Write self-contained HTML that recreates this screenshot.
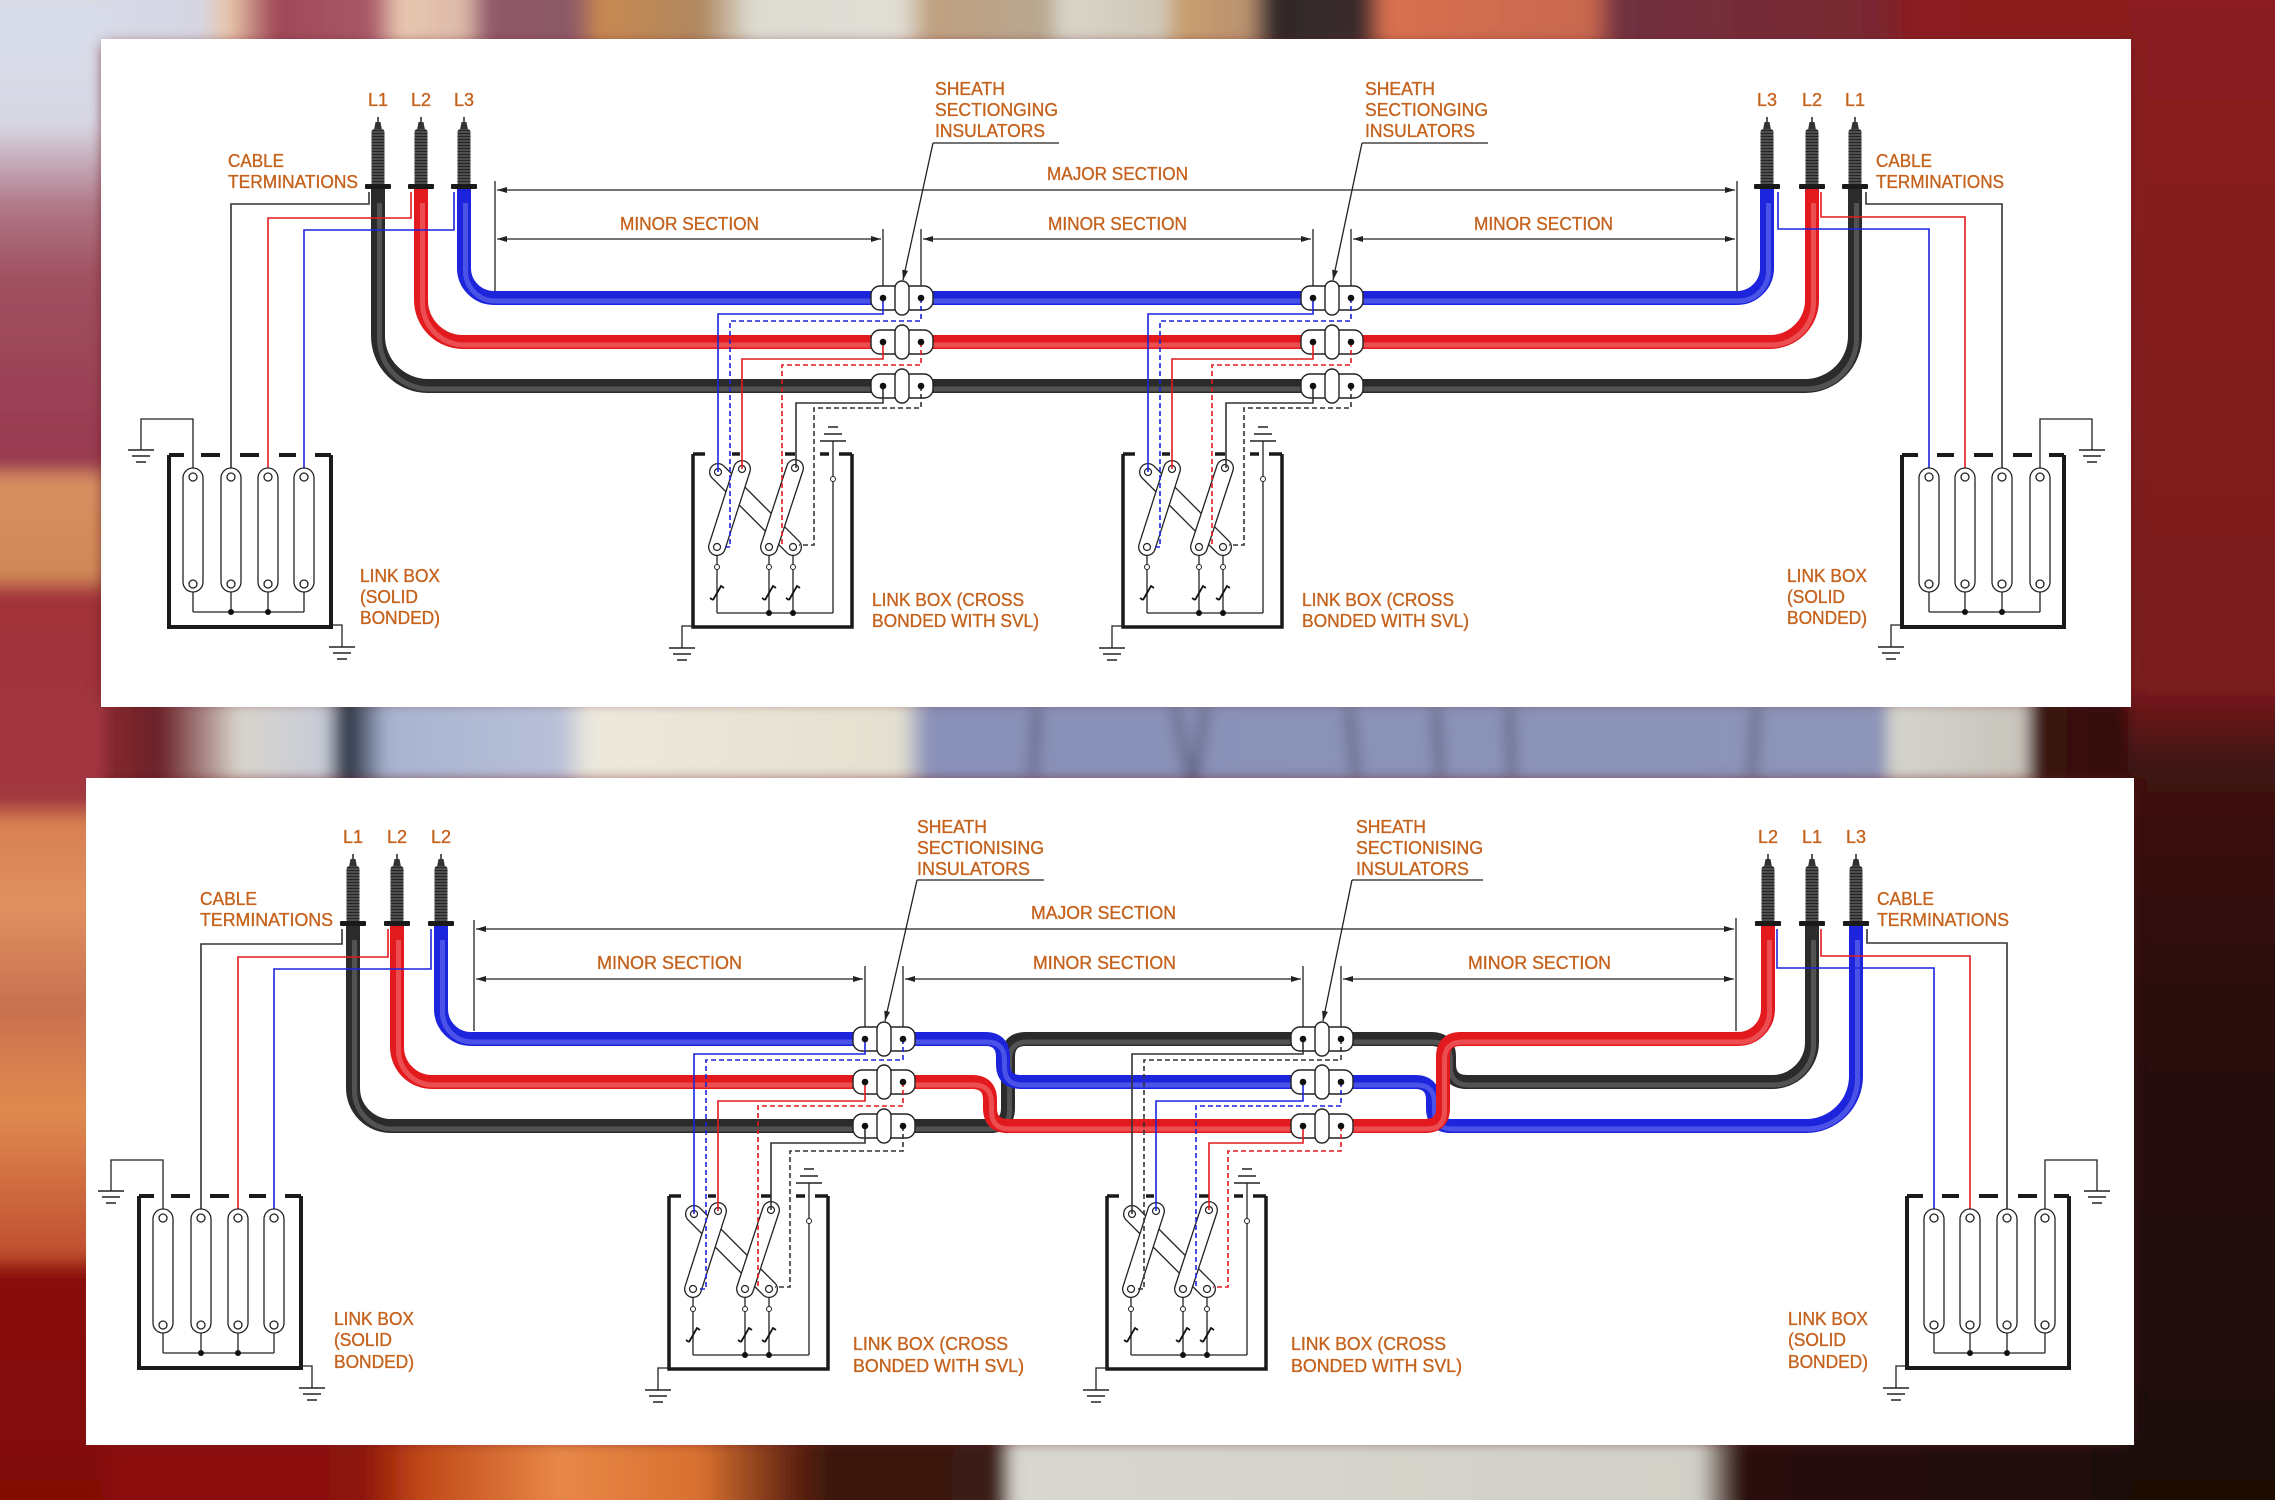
<!DOCTYPE html>
<html><head><meta charset="utf-8"><style>
html,body{margin:0;padding:0;background:#6a1a20;overflow:hidden}
svg{display:block}
.t{font-family:"Liberation Sans",Arial,sans-serif;font-size:18px;fill:#c5621d;stroke:#c5621d;stroke-width:0.35}
.w{fill:none;stroke-width:1.6}
.d{stroke-dasharray:5 3}
.k{fill:none;stroke:#222;stroke-width:1.3}
.c{fill:none;stroke-width:14;stroke-linejoin:round}
.h{fill:none;stroke-width:5;stroke-linejoin:round;opacity:.35}
</style></head><body>
<svg width="2275" height="1500" viewBox="0 0 2275 1500" xmlns="http://www.w3.org/2000/svg">
<defs>
<filter id="bl" x="-2%" y="-2%" width="104%" height="104%"><feGaussianBlur stdDeviation="7"/></filter>
<linearGradient id="gTop" gradientUnits="userSpaceOnUse" x1="0" y1="0" x2="2275" y2="0">
<stop offset="0" stop-color="#efc9aa"/><stop offset=".019" stop-color="#d8dcea"/><stop offset=".088" stop-color="#d6d6e2"/><stop offset=".101" stop-color="#e8c4a8"/><stop offset=".121" stop-color="#a04858"/><stop offset=".163" stop-color="#a85868"/><stop offset=".176" stop-color="#e8c8b0"/><stop offset=".204" stop-color="#dcb8a8"/><stop offset=".215" stop-color="#905868"/><stop offset=".251" stop-color="#8a5868"/><stop offset=".264" stop-color="#c88850"/><stop offset=".308" stop-color="#b08860"/><stop offset=".331" stop-color="#dcdcd2"/><stop offset=".396" stop-color="#e0ddd4"/><stop offset=".409" stop-color="#c0a080"/><stop offset=".459" stop-color="#b8a890"/><stop offset=".468" stop-color="#d8d4c8"/><stop offset=".51" stop-color="#d0c8b8"/><stop offset=".519" stop-color="#c8a070"/><stop offset=".549" stop-color="#b89070"/><stop offset=".56" stop-color="#302828"/><stop offset=".598" stop-color="#3a2a2a"/><stop offset=".609" stop-color="#d87050"/><stop offset=".699" stop-color="#c86850"/><stop offset=".712" stop-color="#703040"/><stop offset=".826" stop-color="#7a2830"/><stop offset=".84" stop-color="#8a1c20"/><stop offset="1" stop-color="#8a1a1c"/>
</linearGradient>
<linearGradient id="gMid" gradientUnits="userSpaceOnUse" x1="0" y1="0" x2="2275" y2="0">
<stop offset="0" stop-color="#a83840"/><stop offset=".044" stop-color="#8a2a30"/><stop offset=".07" stop-color="#6a2028"/><stop offset=".105" stop-color="#d8d4cc"/><stop offset=".143" stop-color="#c8ccd8"/><stop offset=".152" stop-color="#202838"/><stop offset=".17" stop-color="#a8b4d0"/><stop offset=".246" stop-color="#b8c0d8"/><stop offset=".259" stop-color="#ece8dc"/><stop offset=".396" stop-color="#e4e0d0"/><stop offset=".408" stop-color="#8890b8"/><stop offset=".828" stop-color="#8c94b8"/><stop offset=".831" stop-color="#d4d4cc"/><stop offset=".89" stop-color="#c8c4bc"/><stop offset=".895" stop-color="#3a1210"/><stop offset="1" stop-color="#2a0e0c"/>
</linearGradient>
<linearGradient id="gBot" gradientUnits="userSpaceOnUse" x1="0" y1="0" x2="2275" y2="0">
<stop offset="0" stop-color="#8a0c08"/><stop offset=".158" stop-color="#8c1208"/><stop offset=".185" stop-color="#c04818"/><stop offset=".246" stop-color="#e88848"/><stop offset=".308" stop-color="#d87030"/><stop offset=".352" stop-color="#5a2010"/><stop offset=".365" stop-color="#3a1810"/><stop offset=".438" stop-color="#3a1a12"/><stop offset=".446" stop-color="#d8d8d0"/><stop offset=".747" stop-color="#d0d0c8"/><stop offset=".765" stop-color="#2a1008"/><stop offset="1" stop-color="#1a0a08"/>
</linearGradient>
<linearGradient id="gLeft" x1="0" y1="0" x2="0" y2="1">
<stop offset="0" stop-color="#e8c8b0"/><stop offset=".015" stop-color="#d8dcea"/><stop offset=".093" stop-color="#d8d8e4"/><stop offset=".147" stop-color="#b07888"/><stop offset=".193" stop-color="#a05060"/><stop offset=".313" stop-color="#983850"/><stop offset=".325" stop-color="#d89060"/><stop offset=".387" stop-color="#d08858"/><stop offset=".4" stop-color="#a03038"/><stop offset=".533" stop-color="#a03840"/><stop offset=".547" stop-color="#d88050"/><stop offset=".6" stop-color="#e09060"/><stop offset=".667" stop-color="#c87050"/><stop offset=".733" stop-color="#e08a50"/><stop offset=".827" stop-color="#c05030"/><stop offset=".84" stop-color="#8a0c08"/><stop offset="1" stop-color="#800a06"/>
</linearGradient>
<linearGradient id="gRight" x1="0" y1="0" x2="0" y2="1">
<stop offset="0" stop-color="#8a1c20"/><stop offset=".46" stop-color="#7a1a1c"/><stop offset=".51" stop-color="#3e1212"/><stop offset=".67" stop-color="#2a0c0a"/><stop offset="1" stop-color="#1c0806"/>
</linearGradient>
<pattern id="rib" patternUnits="userSpaceOnUse" width="4" height="3"><rect width="4" height="3" fill="#262626"/><rect y="1.6" width="4" height="0.8" fill="#8a8a8a"/></pattern>
<marker id="a" viewBox="0 0 10 6" refX="10" refY="3" markerWidth="10" markerHeight="6" markerUnits="userSpaceOnUse" orient="auto-start-reverse"><path d="M0 0L10 3L0 6z" fill="#222"/></marker>
<g id="term">
<path d="M0 -73V-67" stroke="#222" stroke-width="1.5"/>
<path d="M-2.5 -68L2.5 -68L4 -60L-4 -60Z" fill="#333"/>
<rect x="-6.5" y="-61" width="13" height="57" rx="3" fill="url(#rib)"/>
<rect x="-13" y="-6" width="26" height="5" rx="1" fill="#1a1a1a"/>
</g>
<g id="ins">
<rect x="-31" y="-12" width="62" height="24" rx="9" fill="#fff" stroke="#222" stroke-width="1.4"/>
<rect x="-7" y="-17" width="14" height="34" rx="7" fill="#fff" stroke="#222" stroke-width="1.4"/>
</g>
<g id="xbox">
<path d="M0 0V173H159V0" fill="none" stroke="#1a1a1a" stroke-width="3.5"/>
<path d="M0 0H12M39 0H47M92 0H102M127 0H136M146 0H159" stroke="#1a1a1a" stroke-width="3.5"/>
<path d="M140 -13V159M24 159H140M24 99V159M76 99V159M100 99V159" class="k"/>
<path d="M127 -13H153M131 -20H149M135 -27H145" stroke="#222" stroke-width="1.6"/>
<circle cx="140" cy="25" r="2.5" fill="#fff" stroke="#222"/>
<circle cx="24" cy="113" r="2.5" fill="#fff" stroke="#222"/>
<circle cx="76" cy="113" r="2.5" fill="#fff" stroke="#222"/>
<circle cx="100" cy="113" r="2.5" fill="#fff" stroke="#222"/>
<path d="M20 146L28 132l3 2M20 146l-3 -2M72 146L80 132l3 2M72 146l-3 -2M96 146L104 132l3 2M96 146l-3 -2" fill="none" stroke="#111" stroke-width="1.8"/>
<circle cx="76" cy="159" r="3" fill="#111"/><circle cx="100" cy="159" r="3" fill="#111"/>
<path d="M0 172H-11V194" class="k"/>
<path d="M-24 194H2M-20 200H-2M-16 206H-6" stroke="#222" stroke-width="1.6"/>
<g stroke-linecap="round" fill="none">
<path d="M25 18L100 93" stroke="#222" stroke-width="18"/><path d="M25 18L100 93" stroke="#fff" stroke-width="15.4"/>
<path d="M49 15L24 93" stroke="#222" stroke-width="18"/><path d="M49 15L24 93" stroke="#fff" stroke-width="15.4"/>
<path d="M102 14L76 93" stroke="#222" stroke-width="18"/><path d="M102 14L76 93" stroke="#fff" stroke-width="15.4"/>
</g>
<g fill="#fff" stroke="#222" stroke-width="1.2">
<circle cx="25" cy="18" r="3.5"/><circle cx="49" cy="15" r="3.5"/><circle cx="102" cy="14" r="3.5"/>
<circle cx="24" cy="93" r="3.5"/><circle cx="76" cy="93" r="3.5"/><circle cx="100" cy="93" r="3.5"/>
</g>
</g>
<g id="sbox">
<path d="M0 0V172H162V0" fill="none" stroke="#1a1a1a" stroke-width="4"/>
<path d="M0 0H15M32 0H51M71 0H90M110 0H127M146 0H162" stroke="#1a1a1a" stroke-width="4"/>
<path d="M24 13V-36H-28V-5M24 137V157M62 137V157M99 137V157M135 137V157M24 157H135M162 170H173V192" class="k"/>
<path d="M-41 -5H-15M-37 1H-19M-33 7H-23M160 192H186M164 198H182M168 204H178" stroke="#222" stroke-width="1.6"/>
<g fill="#fff" stroke="#222" stroke-width="1.3">
<rect x="14" y="13" width="20" height="124" rx="10"/><rect x="52" y="13" width="20" height="124" rx="10"/><rect x="89" y="13" width="20" height="124" rx="10"/><rect x="125" y="13" width="20" height="124" rx="10"/>
<circle cx="24" cy="22" r="4"/><circle cx="62" cy="22" r="4"/><circle cx="99" cy="22" r="4"/><circle cx="135" cy="22" r="4"/>
<circle cx="24" cy="129" r="4"/><circle cx="62" cy="129" r="4"/><circle cx="99" cy="129" r="4"/><circle cx="135" cy="129" r="4"/>
</g>
<circle cx="62" cy="157" r="3" fill="#111"/><circle cx="99" cy="157" r="3" fill="#111"/>
</g>
</defs>

<!-- background -->
<rect width="2275" height="1500" fill="#6a1a20"/>
<g filter="url(#bl)">
<rect x="-20" y="-20" width="2315" height="65" fill="url(#gTop)"/>
<rect x="-20" y="700" width="2315" height="82" fill="url(#gMid)"/>
<rect x="-20" y="1440" width="2315" height="80" fill="url(#gBot)"/>
<rect x="-20" y="-20" width="124" height="1540" fill="url(#gLeft)"/>
<rect x="2128" y="-20" width="167" height="1540" fill="url(#gRight)"/>
<rect x="-20" y="700" width="124" height="82" fill="#a23640"/>
<g stroke="#141828" stroke-width="5" opacity=".8">
<path d="M1037 707L1033 778M1175 707L1190 778M1205 707L1195 778M1349 707L1356 778M1436 707L1440 778M1509 707L1512 778M1756 707L1752 778"/>
</g>
</g>

<!-- panels -->
<rect x="101" y="39" width="2030" height="668" fill="#fff"/>
<rect x="86" y="778" width="2048" height="667" fill="#fff"/>

<!-- ================= TOP PANEL ================= -->
<g class="k" stroke="#222" stroke-width="1.3">
<path d="M495 181V291M1737 181V291"/>
<path d="M497 190H1735" marker-start="url(#a)" marker-end="url(#a)"/>
<path d="M497 239H881" marker-start="url(#a)" marker-end="url(#a)"/>
<path d="M923 239H1311" marker-start="url(#a)" marker-end="url(#a)"/>
<path d="M1353 239H1735" marker-start="url(#a)" marker-end="url(#a)"/>
<path d="M933 143H1059M1362 143H1488"/>
<path d="M933 143L903 280" marker-end="url(#a)"/>
<path d="M1362 143L1333 280" marker-end="url(#a)"/>
</g>
<path class="c" stroke="#2b2b2b" d="M378 190V336A50 50 0 0 0 428 386H1805A50 50 0 0 0 1855 336V190"/>
<path class="c" stroke="#e21a1e" d="M421 190V300A42 42 0 0 0 463 342H1770A42 42 0 0 0 1812 300V190"/>
<path class="c" stroke="#1c24dc" d="M464 190V268A30 30 0 0 0 494 298H1737A30 30 0 0 0 1767 268V190"/>
<g transform="translate(1.5,3)">
<path class="h" stroke="#9a9a9a" d="M378 200V336A50 50 0 0 0 428 386H1805A50 50 0 0 0 1855 336V200"/>
<path class="h" stroke="#ffb0b0" d="M421 200V300A42 42 0 0 0 463 342H1770A42 42 0 0 0 1812 300V200"/>
<path class="h" stroke="#a0a8ff" d="M464 200V268A30 30 0 0 0 494 298H1737A30 30 0 0 0 1767 268V200"/>
</g>
<use href="#term" x="378" y="190"/><rect x="371" y="189" width="14" height="5" fill="#2b2b2b"/>
<use href="#term" x="421" y="190"/><rect x="414" y="189" width="14" height="5" fill="#e21a1e"/>
<use href="#term" x="464" y="190"/><rect x="457" y="189" width="14" height="5" fill="#1c24dc"/>
<use href="#term" x="1767" y="190"/><rect x="1760" y="189" width="14" height="5" fill="#1c24dc"/>
<use href="#term" x="1812" y="190"/><rect x="1805" y="189" width="14" height="5" fill="#e21a1e"/>
<use href="#term" x="1855" y="190"/><rect x="1848" y="189" width="14" height="5" fill="#2b2b2b"/>
<path class="w" stroke="#333" d="M369 192V204H231V469"/>
<path class="w" stroke="#e21a1e" d="M411 192V218H268V469"/>
<path class="w" stroke="#1c24dc" d="M454 192V230H304V469"/>
<path class="w" stroke="#333" d="M1866 192V204H2002V469"/>
<path class="w" stroke="#e21a1e" d="M1821 192V217H1965V469"/>
<path class="w" stroke="#1c24dc" d="M1778 192V229H1929V469"/>
<use href="#sbox" transform="translate(169,455)"/>
<use href="#sbox" transform="translate(2064,455) scale(-1,1)"/>
<g id="topsec">
<path d="M883 229V287M921 229V287" class="k"/>
<use href="#ins" x="902" y="298"/>
<use href="#ins" x="902" y="342"/>
<use href="#ins" x="902" y="386"/>
<use href="#xbox" transform="translate(693,454)"/>
<path class="w" stroke="#1c24dc" d="M883 298V314H718V472"/>
<path class="w d" stroke="#1c24dc" d="M921 298V321H730V547H722"/>
<path class="w" stroke="#e21a1e" d="M883 342V359H742V469"/>
<path class="w d" stroke="#e21a1e" d="M921 342V365H782V547"/>
<path class="w" stroke="#333" d="M883 386V403H796V468"/>
<path class="w d" stroke="#333" d="M921 386V408H814V545H799"/>
<g fill="#111"><circle cx="883" cy="298" r="3.3"/><circle cx="921" cy="298" r="3.3"/><circle cx="883" cy="342" r="3.3"/><circle cx="921" cy="342" r="3.3"/><circle cx="883" cy="386" r="3.3"/><circle cx="921" cy="386" r="3.3"/></g>
</g>
<use href="#topsec" x="430" y="0"/>
<g class="t">
<text x="378" y="106" text-anchor="middle">L1</text>
<text x="421" y="106" text-anchor="middle">L2</text>
<text x="464" y="106" text-anchor="middle">L3</text>
<text x="1767" y="106" text-anchor="middle">L3</text>
<text x="1812" y="106" text-anchor="middle">L2</text>
<text x="1855" y="106" text-anchor="middle">L1</text>
<text x="228" y="167" textLength="56" lengthAdjust="spacingAndGlyphs">CABLE</text>
<text x="228" y="188" textLength="130" lengthAdjust="spacingAndGlyphs">TERMINATIONS</text>
<text x="1876" y="167" textLength="56" lengthAdjust="spacingAndGlyphs">CABLE</text>
<text x="1876" y="188" textLength="128" lengthAdjust="spacingAndGlyphs">TERMINATIONS</text>
<text x="935" y="95" textLength="70" lengthAdjust="spacingAndGlyphs">SHEATH</text>
<text x="935" y="116" textLength="123" lengthAdjust="spacingAndGlyphs">SECTIONGING</text>
<text x="935" y="137" textLength="110" lengthAdjust="spacingAndGlyphs">INSULATORS</text>
<text x="1365" y="95" textLength="70" lengthAdjust="spacingAndGlyphs">SHEATH</text>
<text x="1365" y="116" textLength="123" lengthAdjust="spacingAndGlyphs">SECTIONGING</text>
<text x="1365" y="137" textLength="110" lengthAdjust="spacingAndGlyphs">INSULATORS</text>
<text x="1047" y="180" textLength="141" lengthAdjust="spacingAndGlyphs">MAJOR SECTION</text>
<text x="620" y="230" textLength="139" lengthAdjust="spacingAndGlyphs">MINOR SECTION</text>
<text x="1048" y="230" textLength="139" lengthAdjust="spacingAndGlyphs">MINOR SECTION</text>
<text x="1474" y="230" textLength="139" lengthAdjust="spacingAndGlyphs">MINOR SECTION</text>
<text x="360" y="582" textLength="80" lengthAdjust="spacingAndGlyphs">LINK BOX</text>
<text x="360" y="603" textLength="58" lengthAdjust="spacingAndGlyphs">(SOLID</text>
<text x="360" y="624" textLength="80" lengthAdjust="spacingAndGlyphs">BONDED)</text>
<text x="1787" y="582" textLength="80" lengthAdjust="spacingAndGlyphs">LINK BOX</text>
<text x="1787" y="603" textLength="58" lengthAdjust="spacingAndGlyphs">(SOLID</text>
<text x="1787" y="624" textLength="80" lengthAdjust="spacingAndGlyphs">BONDED)</text>
<text x="872" y="606" textLength="152" lengthAdjust="spacingAndGlyphs">LINK BOX (CROSS</text>
<text x="872" y="627" textLength="167" lengthAdjust="spacingAndGlyphs">BONDED WITH SVL)</text>
<text x="1302" y="606" textLength="152" lengthAdjust="spacingAndGlyphs">LINK BOX (CROSS</text>
<text x="1302" y="627" textLength="167" lengthAdjust="spacingAndGlyphs">BONDED WITH SVL)</text>
</g>

<!-- ================= BOTTOM PANEL ================= -->
<g class="k" stroke="#222" stroke-width="1.3">
<path d="M474 920V1031M1736 918V1031"/>
<path d="M476 929H1734" marker-start="url(#a)" marker-end="url(#a)"/>
<path d="M476 979H863" marker-start="url(#a)" marker-end="url(#a)"/>
<path d="M905 979H1301" marker-start="url(#a)" marker-end="url(#a)"/>
<path d="M1343 979H1734" marker-start="url(#a)" marker-end="url(#a)"/>
<path d="M917 880H1044M1352 880H1483"/>
<path d="M917 880L885 1021" marker-end="url(#a)"/>
<path d="M1352 880L1323 1021" marker-end="url(#a)"/>
</g>
<path class="c" stroke="#2b2b2b" d="M353 927V1088A38 38 0 0 0 391 1126H990Q1008 1126 1008 1108V1057Q1008 1039 1026 1039H1431Q1449 1039 1449 1057V1064Q1449 1082 1467 1082H1772A40 40 0 0 0 1812 1042V927"/>
<path class="h" stroke="#9a9a9a" transform="translate(1.5,3)" d="M353 937V1088A38 38 0 0 0 391 1126H990Q1008 1126 1008 1108V1057Q1008 1039 1026 1039H1431Q1449 1039 1449 1057V1064Q1449 1082 1467 1082H1772A40 40 0 0 0 1812 1042V937"/>
<path class="c" stroke="#1c24dc" d="M441 927V1009A30 30 0 0 0 471 1039H985Q1003 1039 1003 1057V1064Q1003 1082 1021 1082H1415Q1433 1082 1433 1100V1108Q1433 1126 1451 1126H1806A50 50 0 0 0 1856 1076V927"/>
<path class="h" stroke="#a0a8ff" transform="translate(1.5,3)" d="M441 937V1009A30 30 0 0 0 471 1039H985Q1003 1039 1003 1057V1064Q1003 1082 1021 1082H1415Q1433 1082 1433 1100V1108Q1433 1126 1451 1126H1806A50 50 0 0 0 1856 1076V937"/>
<path class="c" stroke="#e21a1e" d="M397 927V1047A35 35 0 0 0 432 1082H972Q990 1082 990 1100V1108Q990 1126 1008 1126H1425Q1443 1126 1443 1108V1057Q1443 1039 1461 1039H1738A30 30 0 0 0 1768 1009V927"/>
<path class="h" stroke="#ffb0b0" transform="translate(1.5,3)" d="M397 937V1047A35 35 0 0 0 432 1082H972Q990 1082 990 1100V1108Q990 1126 1008 1126H1425Q1443 1126 1443 1108V1057Q1443 1039 1461 1039H1738A30 30 0 0 0 1768 1009V937"/>
<use href="#term" x="353" y="927"/><rect x="346" y="926" width="14" height="5" fill="#2b2b2b"/>
<use href="#term" x="397" y="927"/><rect x="390" y="926" width="14" height="5" fill="#e21a1e"/>
<use href="#term" x="441" y="927"/><rect x="434" y="926" width="14" height="5" fill="#1c24dc"/>
<use href="#term" x="1768" y="927"/><rect x="1761" y="926" width="14" height="5" fill="#e21a1e"/>
<use href="#term" x="1812" y="927"/><rect x="1805" y="926" width="14" height="5" fill="#2b2b2b"/>
<use href="#term" x="1856" y="927"/><rect x="1849" y="926" width="14" height="5" fill="#1c24dc"/>
<path class="w" stroke="#333" d="M342 929V944H201V1210"/>
<path class="w" stroke="#e21a1e" d="M388 929V957H238V1210"/>
<path class="w" stroke="#1c24dc" d="M431 929V969H274V1210"/>
<path class="w" stroke="#1c24dc" d="M1777 929V968H1934V1210"/>
<path class="w" stroke="#e21a1e" d="M1821 929V956H1970V1210"/>
<path class="w" stroke="#333" d="M1867 929V943H2007V1210"/>
<use href="#sbox" transform="translate(139,1196)"/>
<use href="#sbox" transform="translate(2069,1196) scale(-1,1)"/>
<path d="M865 966V1027M903 966V1027" class="k"/>
<use href="#ins" x="884" y="1039"/><use href="#ins" x="884" y="1082"/><use href="#ins" x="884" y="1126"/>
<use href="#xbox" transform="translate(669,1196)"/>
<path class="w" stroke="#1c24dc" d="M865 1039V1054H694V1214"/>
<path class="w d" stroke="#1c24dc" d="M903 1039V1060H706V1289H699"/>
<path class="w" stroke="#e21a1e" d="M865 1082V1101H718V1211"/>
<path class="w d" stroke="#e21a1e" d="M903 1082V1106H758V1289"/>
<path class="w" stroke="#333" d="M865 1126V1143H771V1210"/>
<path class="w d" stroke="#333" d="M903 1126V1151H790V1287H775"/>
<g fill="#111"><circle cx="865" cy="1039" r="3.3"/><circle cx="903" cy="1039" r="3.3"/><circle cx="865" cy="1082" r="3.3"/><circle cx="903" cy="1082" r="3.3"/><circle cx="865" cy="1126" r="3.3"/><circle cx="903" cy="1126" r="3.3"/></g>
<g transform="translate(438,0)">
<path d="M865 966V1027M903 966V1027" class="k"/>
<use href="#ins" x="884" y="1039"/><use href="#ins" x="884" y="1082"/><use href="#ins" x="884" y="1126"/>
<use href="#xbox" transform="translate(669,1196)"/>
<path class="w" stroke="#333" d="M865 1039V1054H694V1214"/>
<path class="w d" stroke="#333" d="M903 1039V1060H706V1289H699"/>
<path class="w" stroke="#1c24dc" d="M865 1082V1101H718V1211"/>
<path class="w d" stroke="#1c24dc" d="M903 1082V1106H758V1289"/>
<path class="w" stroke="#e21a1e" d="M865 1126V1143H771V1210"/>
<path class="w d" stroke="#e21a1e" d="M903 1126V1151H790V1287H775"/>
<g fill="#111"><circle cx="865" cy="1039" r="3.3"/><circle cx="903" cy="1039" r="3.3"/><circle cx="865" cy="1082" r="3.3"/><circle cx="903" cy="1082" r="3.3"/><circle cx="865" cy="1126" r="3.3"/><circle cx="903" cy="1126" r="3.3"/></g>
</g>
<g class="t">
<text x="353" y="843" text-anchor="middle">L1</text>
<text x="397" y="843" text-anchor="middle">L2</text>
<text x="441" y="843" text-anchor="middle">L2</text>
<text x="1768" y="843" text-anchor="middle">L2</text>
<text x="1812" y="843" text-anchor="middle">L1</text>
<text x="1856" y="843" text-anchor="middle">L3</text>
<text x="200" y="905" textLength="57" lengthAdjust="spacingAndGlyphs">CABLE</text>
<text x="200" y="926" textLength="133" lengthAdjust="spacingAndGlyphs">TERMINATIONS</text>
<text x="1877" y="905" textLength="57" lengthAdjust="spacingAndGlyphs">CABLE</text>
<text x="1877" y="926" textLength="132" lengthAdjust="spacingAndGlyphs">TERMINATIONS</text>
<text x="917" y="833" textLength="70" lengthAdjust="spacingAndGlyphs">SHEATH</text>
<text x="917" y="854" textLength="127" lengthAdjust="spacingAndGlyphs">SECTIONISING</text>
<text x="917" y="875" textLength="113" lengthAdjust="spacingAndGlyphs">INSULATORS</text>
<text x="1356" y="833" textLength="70" lengthAdjust="spacingAndGlyphs">SHEATH</text>
<text x="1356" y="854" textLength="127" lengthAdjust="spacingAndGlyphs">SECTIONISING</text>
<text x="1356" y="875" textLength="113" lengthAdjust="spacingAndGlyphs">INSULATORS</text>
<text x="1031" y="919" textLength="145" lengthAdjust="spacingAndGlyphs">MAJOR SECTION</text>
<text x="597" y="969" textLength="145" lengthAdjust="spacingAndGlyphs">MINOR SECTION</text>
<text x="1033" y="969" textLength="143" lengthAdjust="spacingAndGlyphs">MINOR SECTION</text>
<text x="1468" y="969" textLength="143" lengthAdjust="spacingAndGlyphs">MINOR SECTION</text>
<text x="334" y="1325" textLength="80" lengthAdjust="spacingAndGlyphs">LINK BOX</text>
<text x="334" y="1346" textLength="58" lengthAdjust="spacingAndGlyphs">(SOLID</text>
<text x="334" y="1368" textLength="80" lengthAdjust="spacingAndGlyphs">BONDED)</text>
<text x="1788" y="1325" textLength="80" lengthAdjust="spacingAndGlyphs">LINK BOX</text>
<text x="1788" y="1346" textLength="58" lengthAdjust="spacingAndGlyphs">(SOLID</text>
<text x="1788" y="1368" textLength="80" lengthAdjust="spacingAndGlyphs">BONDED)</text>
<text x="853" y="1350" textLength="155" lengthAdjust="spacingAndGlyphs">LINK BOX (CROSS</text>
<text x="853" y="1372" textLength="171" lengthAdjust="spacingAndGlyphs">BONDED WITH SVL)</text>
<text x="1291" y="1350" textLength="155" lengthAdjust="spacingAndGlyphs">LINK BOX (CROSS</text>
<text x="1291" y="1372" textLength="171" lengthAdjust="spacingAndGlyphs">BONDED WITH SVL)</text>
</g>
</svg>
</body></html>
